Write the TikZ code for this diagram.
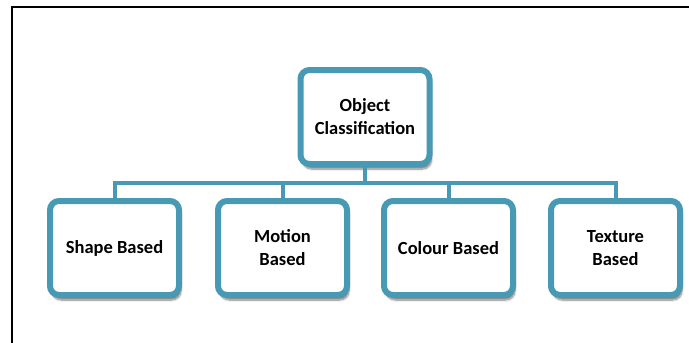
\documentclass[tikz,border=0pt]{standalone}
\usepackage{fontspec}
\setmainfont{Carlito}
\usetikzlibrary{shadows.blur}
\definecolor{boxteal}{RGB}{72,154,180}
\tikzset{
  catbox/.style={draw=boxteal, line width=6pt, fill=white, rounded corners=9pt,
    minimum width=129pt, minimum height=94pt, align=center,
    font=\bfseries\fontsize{18.5}{23}\selectfont, text=black,
    blur shadow={shadow xshift=2pt, shadow yshift=-5pt, shadow blur steps=8, shadow opacity=50}},
  link/.style={draw=boxteal, line width=4pt}
}
\begin{document}
\begin{tikzpicture}[x=1pt,y=-1pt]
  \useasboundingbox (0,0) rectangle (689,343);
  % open frame on the left and top
  \draw[line width=2pt, black] (12,343) -- (12,7) -- (689,7);
  % tree
  \node[catbox] (root) at (365,117) {Object\\Classification};
  \node[catbox] (shape) at (114.5,248) {Shape Based};
  \node[catbox] (motion) at (282.5,248) {Motion\\Based};
  \node[catbox] (colour) at (448.5,248) {Colour Based};
  \node[catbox] (texture) at (615.5,248) {Texture\\Based};
  \coordinate (bus) at (365,183);
  \draw[link] (root.south) -- (bus);
  \draw[link] (shape.north) -- (shape.north |- bus) -- (texture.north |- bus) -- (texture.north);
  \draw[link] (motion.north) -- (motion.north |- bus);
  \draw[link] (colour.north) -- (colour.north |- bus);
\end{tikzpicture}
\end{document}
